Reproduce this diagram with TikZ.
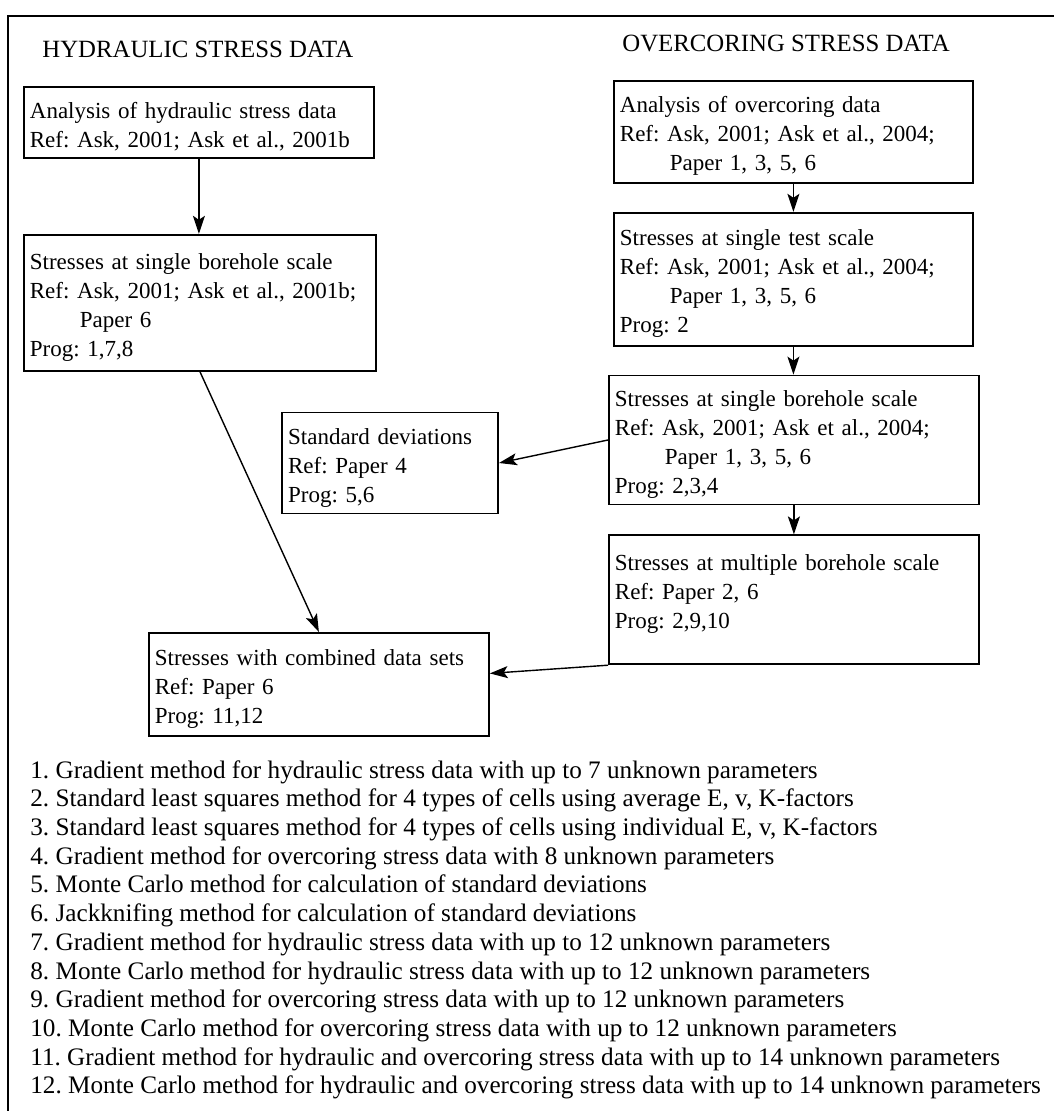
\documentclass[tikz,border=0pt]{standalone}
\usepackage{fontspec}
\setmainfont{Liberation Serif}
\usepackage{tikz}
\usetikzlibrary{arrows.meta,positioning}

\tikzset{
  stressbox/.style={draw, line width=0.9pt, anchor=north west, align=left,
    inner xsep=3pt, inner ysep=0pt, font=\fontsize{11.5}{14.5}\selectfont,
    execute at begin node={\rule{0pt}{12.5pt}}},
  heading/.style={anchor=base west, inner sep=0pt, font=\fontsize{12.4}{14.5}\selectfont},
  flow/.style={-{Stealth[length=9pt,width=6pt,inset=2pt]}, line width=0.7pt},
}
\newcommand{\papind}{\hspace*{25pt}}

\begin{document}
\frenchspacing
\begin{tikzpicture}[x=0.5pt, y=-0.5pt]
  \useasboundingbox (0,0) rectangle (1054,1111);
  % Frame
  \draw[line width=1pt] (8,1111) -- (8,16) -- (1054,16);
  % Headings
  \node[heading] (hhead) at (42,58) {HYDRAULIC STRESS DATA};
  \node[heading] (ohead) at (622,52) {OVERCORING STRESS DATA};
  % Hydraulic column
  \node[stressbox, text width=169pt, minimum height=35.5pt] (hanal) at (23,86)
    {Analysis of hydraulic stress data\\Ref: Ask, 2001; Ask et al., 2001b};
  \node[stressbox, text width=170pt, minimum height=68pt,
    below=37.5pt of hanal.south west, anchor=north west] (hsingle)
    {Stresses at single borehole scale\\Ref: Ask, 2001; Ask et al., 2001b;\\\papind Paper 6\\Prog: 1,7,8};
  % Overcoring column
  \node[stressbox, text width=173.5pt, minimum height=51pt] (oanal) at (613,80)
    {Analysis of overcoring data\\Ref: Ask, 2001; Ask et al., 2004;\\\papind Paper 1, 3, 5, 6};
  \node[stressbox, text width=173.5pt, minimum height=66.5pt,
    below=14pt of oanal.south west, anchor=north west] (otest)
    {Stresses at single test scale\\Ref: Ask, 2001; Ask et al., 2004;\\\papind Paper 1, 3, 5, 6\\Prog: 2};
  \node[stressbox, text width=179pt, minimum height=64.5pt,
    below=14pt of otest.south west, anchor=north west, xshift=-2.5pt] (osingle)
    {Stresses at single borehole scale\\Ref: Ask, 2001; Ask et al., 2004;\\\papind Paper 1, 3, 5, 6\\Prog: 2,3,4};
  \node[stressbox, text width=179pt, minimum height=64.5pt,
    below=14.5pt of osingle.south west, anchor=north west] (omulti)
    {Stresses at multiple borehole scale\\Ref: Paper 2, 6\\Prog: 2,9,10\\[-2pt]\mbox{}};
  \node[stressbox, text width=102pt, minimum height=50.5pt,
    left=54.5pt of osingle.west, anchor=east, yshift=-11.5pt] (stddev)
    {Standard deviations\\Ref: Paper 4\\Prog: 5,6};
  % Combined
  \node[stressbox, text width=164pt, minimum height=51.5pt] (combined) at (148,632)
    {Stresses with combined data sets\\Ref: Paper 6\\Prog: 11,12};
  % Connect the boxes
  \draw[flow] (hanal.south) -- (hanal.south |- hsingle.north);
  \draw[flow] (hsingle.south) -- (combined.north);
  \draw[flow] (oanal.south) -- (oanal.south |- otest.north);
  \draw[flow] (otest.south) -- (otest.south |- osingle.north);
  \draw[flow] (osingle.south) -- (osingle.south |- omulti.north);
  \draw[flow] (osingle.west) -- (stddev.east);
  \draw[flow] (omulti.south west) -- ([yshift=5.5pt]combined.east);
  % Program list
  \node[anchor=north west, inner sep=0pt, align=left,
    font=\fontsize{12.6}{14.35}\selectfont] (proglist) at (30,760)
    {1. Gradient method for hydraulic stress data with up to 7 unknown parameters\\
     2. Standard least squares method for 4 types of cells using average E, v, K-factors\\
     3. Standard least squares method for 4 types of cells using individual E, v, K-factors\\
     4. Gradient method for overcoring stress data with 8 unknown parameters\\
     5. Monte Carlo method for calculation of standard deviations\\
     6. Jackknifing method for calculation of standard deviations\\
     7. Gradient method for hydraulic stress data with up to 12 unknown parameters\\
     8. Monte Carlo method for hydraulic stress data with up to 12 unknown parameters\\
     9. Gradient method for overcoring stress data with up to 12 unknown parameters\\
     10. Monte Carlo method for overcoring stress data with up to 12 unknown parameters\\
     11. Gradient method for hydraulic and overcoring stress data with up to 14 unknown parameters\\
     12. Monte Carlo method for hydraulic and overcoring stress data with up to 14 unknown parameters};
\end{tikzpicture}
\end{document}
